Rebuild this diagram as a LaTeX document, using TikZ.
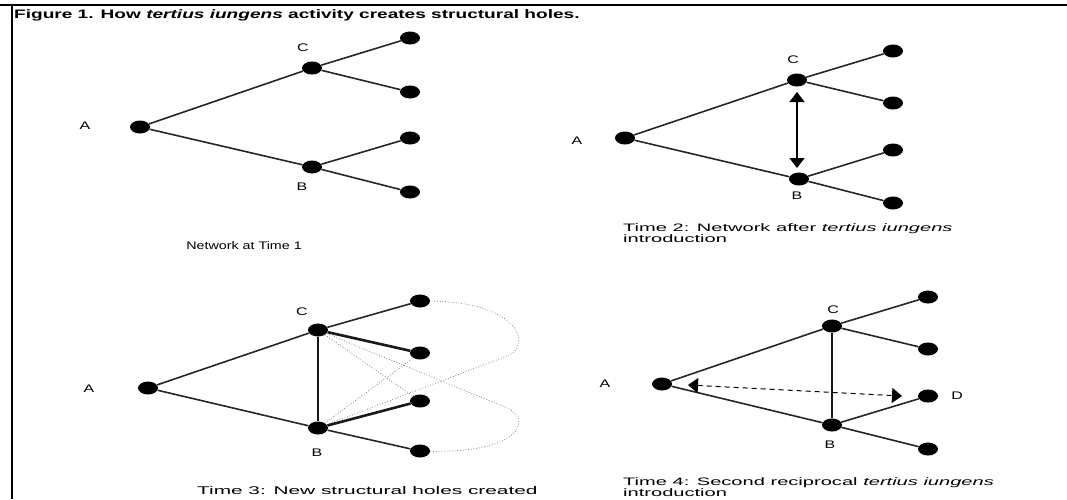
\documentclass[tikz,border=0pt]{standalone}
\usepackage{fontspec}
\usetikzlibrary{arrows.meta, shapes.geometric}
\newfontfamily\figsans[FakeStretch=1.45]{Liberation Sans}
\newfontfamily\fignarrow[FakeStretch=1.3]{Liberation Sans}
\newfontfamily\figwide[FakeStretch=1.86]{Liberation Sans}
\newfontfamily\figtitle[FakeStretch=1.55]{Liberation Sans}
\tikzset{
  actor/.style={
    ellipse,
    fill=black,
    inner sep=0pt,
    minimum width=20pt,
    minimum height=13pt
  },
  tie/.style={
    line width=1.6pt,
    color=black!85
  },
  strong tie/.style={
    line width=2.6pt,
    color=black!90
  },
  new hole/.style={
    dotted,
    line width=0.7pt,
    color=black!60
  },
  actor label/.style={
    font=\figsans\fontsize{11}{10}\selectfont
  },
  caption/.style={
    font=\fignarrow\fontsize{11}{10}\selectfont,
    align=left,
    inner sep=0pt
  },
  wide caption/.style={
    font=\figwide\fontsize{10.8}{9.6}\selectfont,
    align=left,
    inner sep=0pt
  }
}

\begin{document}
\begin{tikzpicture}[x=1pt, y=-1pt, >={Triangle[width=15pt, length=10pt]}]
    \useasboundingbox (0,0) rectangle (1067,499);
    % 0. 边框与标题
    \draw[line width=2.2pt] (0,5) -- (1067,5);
    \draw[line width=2.6pt] (12,5) -- (12,499);
    \node[anchor=west, inner sep=0pt, font=\figtitle\bfseries\fontsize{12.3}{12}\selectfont]
      (title) at (14,15) {Figure 1. How \textit{tertius iungens} activity creates structural holes.};

    % 1. Time 1
    \node[actor] (A1) at (140,127) {};
    \node[actor] (C1) at (312,68) {};
    \node[actor] (B1) at (312,167) {};
    \node[actor] (c1u) at (410,38) {};
    \node[actor] (c1d) at (410,92) {};
    \node[actor] (b1u) at (410,138) {};
    \node[actor] (b1d) at (410,192) {};
    \draw[tie] (A1) -- (C1);
    \draw[tie] (A1) -- (B1);
    \draw[tie] (C1) -- (c1u);
    \draw[tie] (C1) -- (c1d);
    \draw[tie] (B1) -- (b1u);
    \draw[tie] (B1) -- (b1d);
    \node[actor label] (lA1) at (85,126) {A};
    \node[actor label] (lC1) at (303,48) {C};
    \node[actor label] (lB1) at (302,187) {B};
    \node[caption] (cap1) at (244,246) {Network at Time 1};

    % 2. Time 2
    \node[actor] (A2) at (625,138) {};
    \node[actor] (C2) at (797,80) {};
    \node[actor] (B2) at (799,179) {};
    \node[actor] (c2u) at (893,51) {};
    \node[actor] (c2d) at (893,103) {};
    \node[actor] (b2u) at (893,150) {};
    \node[actor] (b2d) at (893,203) {};
    \draw[tie] (A2) -- (C2);
    \draw[tie] (A2) -- (B2);
    \draw[tie] (C2) -- (c2u);
    \draw[tie] (C2) -- (c2d);
    \draw[tie] (B2) -- (b2u);
    \draw[tie] (B2) -- (b2d);
    % 引介箭头
    \coordinate (up2) at (797,92);
    \coordinate (dn2) at (797,168);
    \draw[<->, line width=1.3pt] (up2) -- (dn2);
    \node[actor label] (lA2) at (577,141) {A};
    \node[actor label] (lC2) at (793,60) {C};
    \node[actor label] (lB2) at (797,196) {B};
    \node[wide caption, anchor=north west] (cap2) at (623,223)
      {Time 2: Network after \textit{tertius iungens}\\introduction};

    % 3. Time 3
    \node[actor] (A3) at (148,388) {};
    \node[actor] (C3) at (318,330) {};
    \node[actor] (B3) at (318,428) {};
    \node[actor] (c3u) at (420,301) {};
    \node[actor] (c3d) at (420,353) {};
    \node[actor] (b3u) at (420,401) {};
    \node[actor] (b3d) at (420,451) {};
    % 新的结构洞 (虚线)
    \draw[new hole] (C3) -- (b3u);
    \draw[new hole] (B3) -- (c3d);
    \draw[new hole] (C3) -- (507,408) .. controls (532,419) and (522,453) .. (b3d);
    \draw[new hole] (B3) -- (507,356) .. controls (532,347) and (522,302) .. (c3u);
    \draw[tie] (A3) -- (C3);
    \draw[tie] (A3) -- (B3);
    \draw[strong tie] (C3) -- (B3);
    \draw[tie] (C3) -- (c3u);
    \draw[strong tie] (C3) -- (c3d);
    \draw[strong tie] (B3) -- (b3u);
    \draw[tie] (B3) -- (b3d);
    \node[actor label] (lA3) at (89,389) {A};
    \node[actor label] (lC3) at (302,312) {C};
    \node[actor label] (lB3) at (317,453) {B};
    \node[wide caption, anchor=west, font=\figwide\fontsize{11.2}{10}\selectfont] (cap3) at (197,490)
      {Time 3: New structural holes created};

    % 4. Time 4
    \node[actor] (A4) at (662,384) {};
    \node[actor] (C4) at (832,326) {};
    \node[actor] (B4) at (832,425) {};
    \node[actor] (c4u) at (928,297) {};
    \node[actor] (c4d) at (928,349) {};
    \node[actor] (b4u) at (928,396) {};
    \node[actor] (b4d) at (928,449) {};
    \draw[tie] (A4) -- (C4);
    \draw[tie] (A4) -- (B4);
    \draw[strong tie] (C4) -- (B4);
    \draw[tie] (C4) -- (c4u);
    \draw[tie] (C4) -- (c4d);
    \draw[tie] (B4) -- (b4u);
    \draw[tie] (B4) -- (b4d);
    % 第二次引介 (虚线箭头)
    \coordinate (from4) at (688,385);
    \coordinate (to4) at (902,396);
    \draw[<->, line width=1pt, dash pattern=on 5pt off 4pt] (from4) -- (to4);
    \node[actor label] (lA4) at (605,384) {A};
    \node[actor label] (lC4) at (833,310) {C};
    \node[actor label] (lB4) at (830,445) {B};
    \node[actor label] (lD4) at (957,396) {D};
    \node[wide caption, anchor=north west] (cap4) at (623,477)
      {Time 4: Second reciprocal \textit{tertius iungens}\\introduction};

\end{tikzpicture}
\end{document}
